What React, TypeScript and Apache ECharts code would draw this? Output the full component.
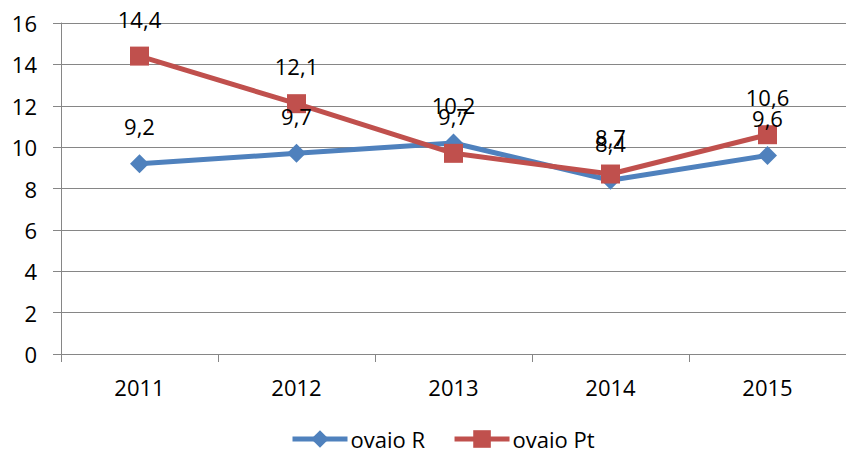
import React, { useEffect, useRef } from "react";
import * as echarts from "echarts";

const categories = ["2011", "2012", "2013", "2014", "2015"];
const seriesRName = "ovaio R";
const seriesRValues = [9.2, 9.7, 10.2, 8.4, 9.6];
const seriesPtName = "ovaio Pt";
const seriesPtValues = [14.4, 12.1, 9.7, 8.7, 10.6];
const yTicks = { min: 0, max: 16, interval: 2 };

const FONT = "'Open Sans', sans-serif";
const fmt = (p: any) => String(p.value).replace(".", ",");

export default function App() {
  const ref = useRef<HTMLDivElement>(null);
  useEffect(() => {
    document.body.style.margin = "0";
    const chart = echarts.init(ref.current!, null, { renderer: "svg" });
    chart.setOption({
      animation: false,
      textStyle: { fontFamily: FONT },
      grid: { left: 61, right: -5, top: 23, bottom: 102, containLabel: false },
      xAxis: {
        type: "category",
        data: categories,
        boundaryGap: true,
        axisLine: { lineStyle: { color: "#868686", width: 1 } },
        axisTick: { show: true, length: 8, lineStyle: { color: "#868686" } },
        axisLabel: { color: "#000", fontSize: 22, fontFamily: FONT, margin: 22 },
      },
      yAxis: {
        type: "value",
        min: yTicks.min,
        max: yTicks.max,
        interval: yTicks.interval,
        axisLine: { show: true, lineStyle: { color: "#868686", width: 1 } },
        axisTick: { show: true, length: 8, lineStyle: { color: "#868686" } },
        axisLabel: { color: "#000", fontSize: 22, fontFamily: FONT, margin: 24 },
        splitLine: { show: true, lineStyle: { color: "#868686", width: 1 } },
      },
      legend: {
        left: 285,
        top: 423,
        itemWidth: 55,
        itemHeight: 22,
        itemGap: 27,
        lineStyle: { width: 5 },
        textStyle: { color: "#000", fontSize: 22, fontFamily: FONT, padding: [0, 0, 0, -2] },
        data: [seriesRName, seriesPtName],
      },
      series: [
        {
          name: seriesRName,
          type: "line",
          data: seriesRValues,
          symbol: "diamond",
          symbolSize: 19,
          itemStyle: { color: "#4F81BD" },
          lineStyle: { color: "#4F81BD", width: 5 },
          label: {
            show: true,
            position: "top",
            distance: 17,
            color: "#000",
            fontSize: 22,
            fontFamily: FONT,
            formatter: fmt,
          },
        },
        {
          name: seriesPtName,
          type: "line",
          data: seriesPtValues,
          symbol: "rect",
          symbolSize: 19,
          itemStyle: { color: "#C0504D" },
          lineStyle: { color: "#C0504D", width: 5 },
          label: {
            show: true,
            position: "top",
            distance: 17,
            color: "#000",
            fontSize: 22,
            fontFamily: FONT,
            formatter: fmt,
          },
        },
      ],
    });
    return () => chart.dispose();
  }, []);
  return <div ref={ref} style={{ width: 846, height: 456 }} />;
}
